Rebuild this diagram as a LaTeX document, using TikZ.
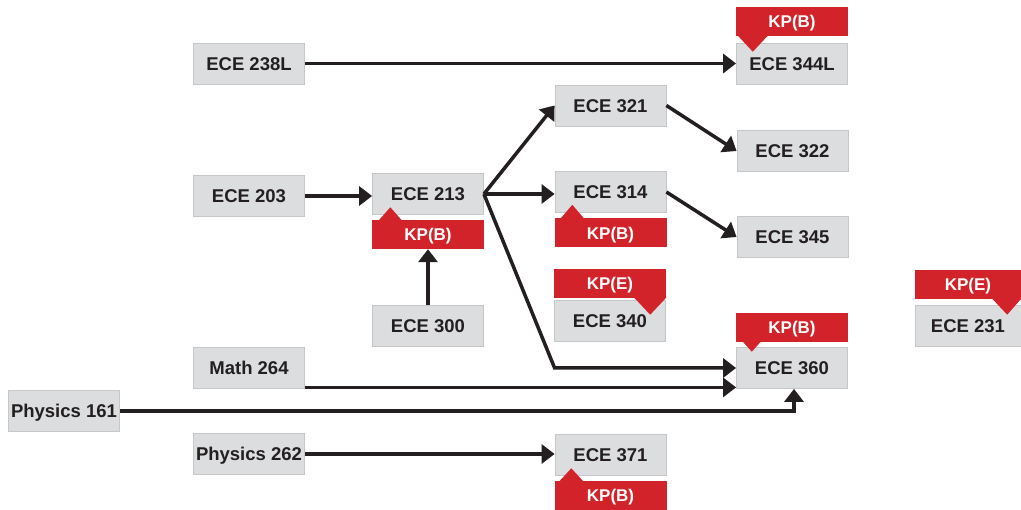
\documentclass[tikz,border=0pt]{standalone}
\usepackage{fontspec}
\setmainfont{Liberation Sans}
\usetikzlibrary{arrows.meta}
\definecolor{boxgray}{HTML}{DCDDDF}
\definecolor{boxedge}{HTML}{C6C7C9}
\definecolor{kpred}{HTML}{D2232A}
\definecolor{ink}{HTML}{231F20}
\begin{document}
\begin{tikzpicture}[x=1pt,y=-1pt,
  course/.style={draw=boxedge, line width=0.8pt, fill=boxgray, minimum width=111pt, minimum height=41pt, inner sep=0pt, text height=13.2pt, text depth=0pt, font=\bfseries\fontsize{18.5}{20}\selectfont, text=ink},
  kp/.style={fill=kpred, minimum width=112pt, minimum height=29pt, inner sep=0pt, text height=12.2pt, text depth=0pt, font=\bfseries\fontsize{17}{18}\selectfont, text=white},
  arr/.style={line width=3.5pt, draw=ink, -{Triangle[length=13pt,width=19pt]}},
  ptr/.style={fill=kpred}
]
\useasboundingbox (0,0) rectangle (1021,510);

% course boxes
\node[course] (e238) at (249,63.5) {ECE 238L};
\node[course] (e344) at (792,63.5) {ECE 344L};
\node[course] (e203) at (249,196) {ECE 203};
\node[course] (e213) at (428,194) {ECE 213};
\node[course] (e300) at (428,326) {ECE 300};
\node[course] (e321) at (610.5,105.5) {ECE 321};
\node[course] (e322) at (792.5,151) {ECE 322};
\node[course] (e314) at (610.5,192) {ECE 314};
\node[course] (e345) at (792.5,237) {ECE 345};
\node[course] (e340) at (610,321) {ECE 340};
\node[course, minimum width=106pt] (e231) at (968,326) {ECE 231};
\node[course] (e360) at (792,368) {ECE 360};
\node[course] (m264) at (249,368) {Math 264};
\node[course] (p161) at (64,411) {Physics 161};
\node[course] (p262) at (249,454) {Physics 262};
\node[course] (e371) at (610.5,455) {ECE 371};

% KP labels
\node[kp] (k344) at (792,21.5) {KP(B)};
\node[kp] (k213) at (428,234.5) {KP(B)};
\node[kp] (k314) at (610.5,233) {KP(B)};
\node[kp] (k340) at (610,283.5) {KP(E)};
\node[kp, minimum width=106pt] (k231) at (968,284.5) {KP(E)};
\node[kp] (k360) at (792,327.5) {KP(B)};
\node[kp] (k371) at (610.5,495.5) {KP(B)};

% pointers
\fill[ptr] ([xshift=2pt,yshift=0.5pt]k344.south west) -- ++(30,0) -- ++(-15,16) -- cycle;
\fill[ptr] ([xshift=7pt,yshift=-0.5pt]k213.north west) -- ++(23,0) -- ++(-11.5,-13) -- cycle;
\fill[ptr] ([xshift=6pt,yshift=-0.5pt]k314.north west) -- ++(24,0) -- ++(-12,-14) -- cycle;
\fill[ptr] ([xshift=5pt,yshift=-0.5pt]k371.north west) -- ++(24,0) -- ++(-12,-13) -- cycle;
\fill[ptr] ([yshift=0.5pt]k340.south east) -- ++(-32,0) -- ++(16,17) -- cycle;
\fill[ptr] ([yshift=0.5pt]k231.south east) -- ++(-29,0) -- ++(15,16) -- cycle;
\fill[ptr] ([xshift=7pt,yshift=0.5pt]k360.south west) -- ++(18,0) -- ++(-9,10) -- cycle;

% connectors
\draw[arr] (e238.east) -- (e344.west);
\draw[arr] (e203.east) -- (e203.east -| e213.west);
\draw[arr] (e213.east) -- (e321.west);
\draw[arr] (e213.east) -- (e213.east -| e314.west);
\draw[arr] (e213.east) -- (e314.west |- e360.west) -- (e360.west);
\draw[arr] (e300.north) -- (k213.south);
\draw[arr] (e321.east) -- (e322.west);
\draw[arr] (e314.east) -- (e345.west);
\coordinate (m1) at ([yshift=1.5pt]m264.south east);
\draw[arr] (m1) -- (m1 -| e360.west);
\coordinate (p360) at ([xshift=2pt]e360.south);
\draw[arr] (p161.east) -- (p161.east -| p360) -- (p360);
\draw[arr] (p262.east) -- (p262.east -| e371.west);
\end{tikzpicture}
\end{document}
